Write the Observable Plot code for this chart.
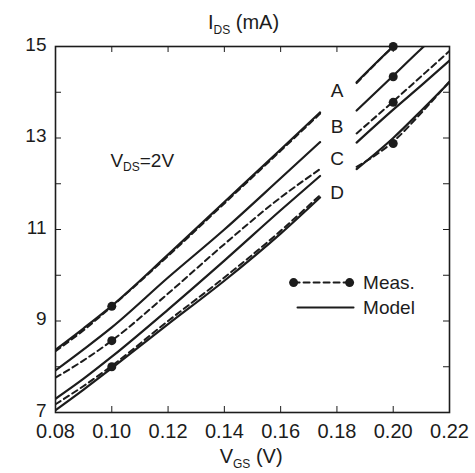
<!DOCTYPE html>
<html><head><meta charset="utf-8">
<script src="https://cdn.jsdelivr.net/npm/d3@7"></script>
<script src="https://cdn.jsdelivr.net/npm/@observablehq/plot@0.6"></script>
<style>body{margin:0;background:#fff;}</style>
</head><body><div id="chart"></div>
<script>
// V_GS sample points (null value at 0.18 = gap where the curve labels sit)
const vgs    = [0.08, 0.09, 0.10, 0.12, 0.14, 0.16, 0.174, 0.18, 0.187, 0.20, 0.21, 0.22];
// Model (solid) curves, I_DS in mA
const aModel = [8.37, 8.84, 9.33, 10.45, 11.60, 12.75, 13.56, null, 14.22, 15.00, 15.55, 16.10];
const bModel = [7.92, 8.38, 8.86, 9.95, 11.00, 12.12, 12.91, null, 13.60, 14.36, 14.95, 15.50];
const cModel = [7.30, 7.74, 8.22, 9.25, 10.32, 11.42, 12.17, null, 12.90, 13.62, 14.15, 14.69];
const dModel = [7.05, 7.50, 7.97, 8.93, 9.88, 10.91, 11.70, null, 12.32, 13.00, 13.60, 14.22];
// Measured (dashed) curves
const aMeas  = [8.34, 8.80, 9.32, 10.42, 11.57, 12.72, 13.53, null, 14.20, 15.00, 15.55, 16.10];
const bMeas  = [7.76, 8.14, 8.57, 9.60, 10.68, 11.70, 12.32, null, 13.10, 13.80, 14.35, 14.90];
const cMeas  = [7.18, 7.58, 8.02, 9.00, 9.95, 10.97, 11.75, null, 12.37, 12.92, 13.55, 14.24];
// Measured points (dots)
const measDotX = [0.10, 0.10, 0.10, 0.20, 0.20, 0.20, 0.20];
const measDotY = [9.32, 8.57, 8.00, 15.00, 14.34, 13.78, 12.88];
// Curve labels
const curveLabels = ["A", "B", "C", "D"];
const curveLabelY = [14.04, 13.24, 12.55, 11.79];
// Ticks
const xTicks = [0.08, 0.10, 0.12, 0.14, 0.16, 0.18, 0.20, 0.22];
const yTickLabels = [7, 9, 11, 13, 15];
const yMinorTicks = [8, 9, 10, 11, 12, 13, 14];

const rows = (ys, name) => vgs.map((x, i) => ({x, y: ys[i], name}));
const modelRows = [...rows(aModel, "A"), ...rows(bModel, "B"), ...rows(cModel, "C"), ...rows(dModel, "D")];
const measRows = [...rows(aMeas, "A"), ...rows(bMeas, "B"), ...rows(cMeas, "C")];
const dots = measDotX.map((x, i) => ({x, y: measDotY[i]}));
const labels = curveLabels.map((t, i) => ({x: 0.1801, y: curveLabelY[i], t}));

const ink = "#1c1c1c";
const FONT = "'Liberation Sans', Arial, Helvetica, sans-serif";

const chart = Plot.plot({
  width: 475, height: 473,
  marginLeft: 55, marginRight: 26, marginTop: 46, marginBottom: 61,
  x: {domain: [0.08, 0.22]},
  y: {domain: [7, 15]},
  style: {fontFamily: FONT, background: "#fff", color: ink},
  marks: [
    Plot.axisX(xTicks, {tickSize: 0, tickPadding: 11, tickFormat: d3.format(".2f"), fontSize: 20, label: null}),
    Plot.axisY(yTickLabels, {tickSize: 0, tickPadding: 9, fontSize: 19, dy: -2, label: null}),
    Plot.tickX(xTicks.slice(1, -1), {x: d => d, insetTop: 360, stroke: ink}),
    Plot.tickX(xTicks.slice(1, -1), {x: d => d, insetBottom: 360, stroke: ink}),
    Plot.tickY(yMinorTicks, {y: d => d, insetRight: 388, stroke: ink}),
    Plot.tickY(yMinorTicks, {y: d => d, insetLeft: 388, stroke: ink}),
    Plot.frame({stroke: ink, strokeWidth: 1.6}),
    Plot.line(modelRows, {x: "x", y: "y", z: "name", stroke: ink, strokeWidth: 2.2, curve: "monotone-x", clip: true}),
    Plot.line(measRows, {x: "x", y: "y", z: "name", stroke: ink, strokeWidth: 2, strokeDasharray: "6,4", curve: "monotone-x", clip: true}),
    Plot.dot(dots, {x: "x", y: "y", r: 4.5, fill: ink}),
    Plot.text(labels, {x: "x", y: "y", text: "t", fontSize: 19, fill: ink}),
    // legend
    Plot.line([{x: 0.1646, y: 9.84}, {x: 0.1845, y: 9.84}], {x: "x", y: "y", stroke: ink, strokeWidth: 2, strokeDasharray: "6,4"}),
    Plot.dot([{x: 0.1646, y: 9.84}, {x: 0.1845, y: 9.84}], {x: "x", y: "y", r: 4.5, fill: ink}),
    Plot.text([{x: 0.1893, y: 9.84, t: "Meas."}], {x: "x", y: "y", text: "t", textAnchor: "start", fontSize: 19, fill: ink}),
    Plot.line([{x: 0.1660, y: 9.295}, {x: 0.1859, y: 9.295}], {x: "x", y: "y", stroke: ink, strokeWidth: 2}),
    Plot.text([{x: 0.1893, y: 9.295, t: "Model"}], {x: "x", y: "y", text: "t", textAnchor: "start", fontSize: 19, fill: ink}),
    // annotations / axis titles
    Plot.text([{x: 0.0995, y: 12.51, t: "V{DS}=2V"}], {x: "x", y: "y", text: "t", textAnchor: "start", fontSize: 19, fill: ink}),
    Plot.text([{x: 0.1468, y: 15, t: "I{DS} (mA)"}], {x: "x", y: "y", text: "t", dy: -24, fontSize: 20, fill: ink}),
    Plot.text([{x: 0.1495, y: 7, t: "V{GS} (V)"}], {x: "x", y: "y", text: "t", dy: 44, fontSize: 20, fill: ink})
  ]
});

// render subscripts written as {..}
d3.select(chart).selectAll("text").each(function() {
  const t = this.textContent;
  if (!t.includes("{")) return;
  const parts = t.split(/(\{[^}]*\})/).filter(s => s);
  while (this.firstChild) this.removeChild(this.firstChild);
  let sub = false;
  for (const p of parts) {
    const ts = document.createElementNS("http://www.w3.org/2000/svg", "tspan");
    if (p.startsWith("{")) {
      ts.textContent = p.slice(1, -1);
      ts.setAttribute("font-size", "12");
      ts.setAttribute("dy", "5");
      sub = true;
    } else {
      ts.textContent = p;
      if (sub) { ts.setAttribute("dy", "-5"); sub = false; }
    }
    this.appendChild(ts);
  }
});

document.getElementById("chart").appendChild(chart);
</script>
</body></html>
